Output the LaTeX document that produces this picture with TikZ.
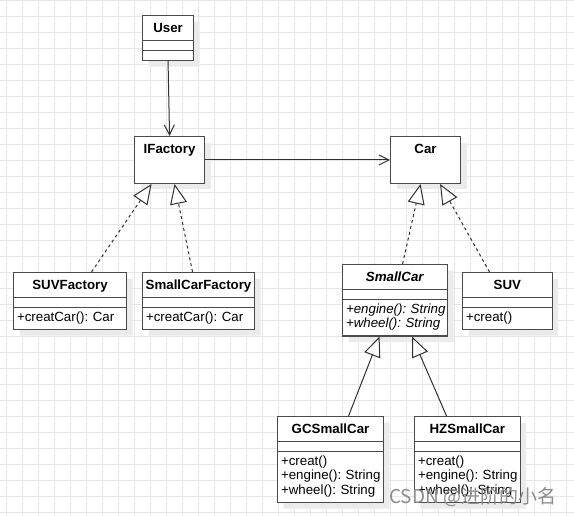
\documentclass[tikz,border=0pt]{standalone}
\usepackage{fontspec}
\setmainfont{Liberation Sans}
\newfontfamily\cjk{Noto Sans CJK SC}
\usepackage{tikz}
\usetikzlibrary{arrows.meta,shapes,shadows}
\frenchspacing
\definecolor{gridc}{HTML}{E6E6E6}
\definecolor{boxc}{HTML}{4A4A4A}
\definecolor{linec}{HTML}{303030}
\definecolor{shadowc}{HTML}{EBEBEB}
\tikzstyle{gridline}=[draw=gridc, line width=0.8pt]
\tikzstyle{umlbox}=[draw=boxc, fill=white, line width=1.1pt, anchor=north west, inner xsep=3.5pt, inner ysep=3.2pt, font=\fontsize{13.3}{14.5}\selectfont, drop shadow={shadow xshift=6pt, shadow yshift=-6pt, fill=shadowc, opacity=1}]
\tikzstyle{cls}=[umlbox, rectangle split, rectangle split parts=3]
\tikzstyle{iface}=[umlbox, rectangle, text depth=27pt]
\tikzstyle{assoc}=[draw=linec, line width=1pt, -{Straight Barb[length=10pt, width=10pt]}]
\tikzstyle{inherit}=[draw=linec, line width=1pt, -{Triangle[open, length=20pt, width=17pt, fill=white]}]
\tikzstyle{real}=[inherit, dash pattern=on 3pt off 3pt]
\tikzstyle{wmark}=[anchor=base west, inner sep=0pt, text=black!45, font=\cjk\fontsize{19}{22}\selectfont]
\newcommand{\ctitle}[1]{\hbox to\linewidth{\hss\rule[-4pt]{0pt}{17.5pt}\textbf{#1}\hss}}
\newcommand{\cnone}{\rule{0pt}{2.5pt}}
\newcommand{\op}[1]{\mbox{\strut#1}}

\begin{document}
\begin{tikzpicture}[x=1pt, y=-1pt]
          \useasboundingbox (0,0) rectangle (574,516);
          \fill[white] (0,0) rectangle (574,516);
          % grid
          \foreach \x in {6,22,...,566} \draw[gridline] (\x,0) -- (\x,516);
          \foreach \y in {0,16,...,512} \draw[gridline] (0,\y) -- (574,\y);
          % classes
          \node at (142,15) [cls, text width=44] (user) {\ctitle{User}\nodepart{two}\cnone\nodepart{three}\cnone};
          \node at (134,136) [iface, text width=63] (ifactory) {\ctitle{IFactory}};
          \node at (390,136) [iface, text width=63] (car) {\ctitle{Car}};
          \node at (13,272) [cls, text width=106] (suvfactory) {\ctitle{SUVFactory}\nodepart{two}\cnone\nodepart{three}\op{+creatCar(): Car}};
          \node at (142,272) [cls, text width=105] (smallcarfactory) {\ctitle{SmallCarFactory}\nodepart{two}\cnone\nodepart{three}\op{+creatCar(): Car}};
          \node at (342,264) [cls, text width=98] (smallcar) {\ctitle{\textit{SmallCar}}\nodepart{two}\cnone\nodepart{three}\itshape\op{+engine(): String}\\\op{+wheel(): String}};
          \node at (462,272) [cls, text width=82.5] (suv) {\ctitle{SUV}\nodepart{two}\cnone\nodepart{three}\op{+creat()}};
          \node at (277,416) [cls, text width=99] (gcsmallcar) {\ctitle{GCSmallCar}\nodepart{two}\cnone\nodepart{three}\op{+creat()}\\\op{+engine(): String}\\\op{+wheel(): String}};
          \node at (414,416) [cls, text width=98.5] (hzsmallcar) {\ctitle{HZSmallCar}\nodepart{two}\cnone\nodepart{three}\op{+creat()}\\\op{+engine(): String}\\\op{+wheel(): String}};
          % connectors
          \draw[assoc] (user.south) -- (ifactory.north);
          \draw[assoc] (ifactory.east) -- (car.west);
          \draw[real] ([xshift=21.5pt]suvfactory.north) -- ([xshift=-18pt]ifactory.south);
          \draw[real] ([xshift=-6pt]smallcarfactory.north) -- ([xshift=5pt]ifactory.south);
          \draw[real] ([xshift=7.5pt]smallcar.north) -- ([xshift=-5pt]car.south);
          \draw[real] ([xshift=-17.75pt]suv.north) -- ([xshift=14.5pt]car.south);
          \draw[inherit] ([xshift=18pt]gcsmallcar.north) -- ([xshift=-15.5pt]smallcar.south);
          \draw[inherit] ([xshift=-20.75pt]hzsmallcar.north) -- ([xshift=17pt]smallcar.south);
          % watermark
          \node at (389,503) [wmark] (csdn) {CSDN @进阶的小名};
\end{tikzpicture}
\end{document}
